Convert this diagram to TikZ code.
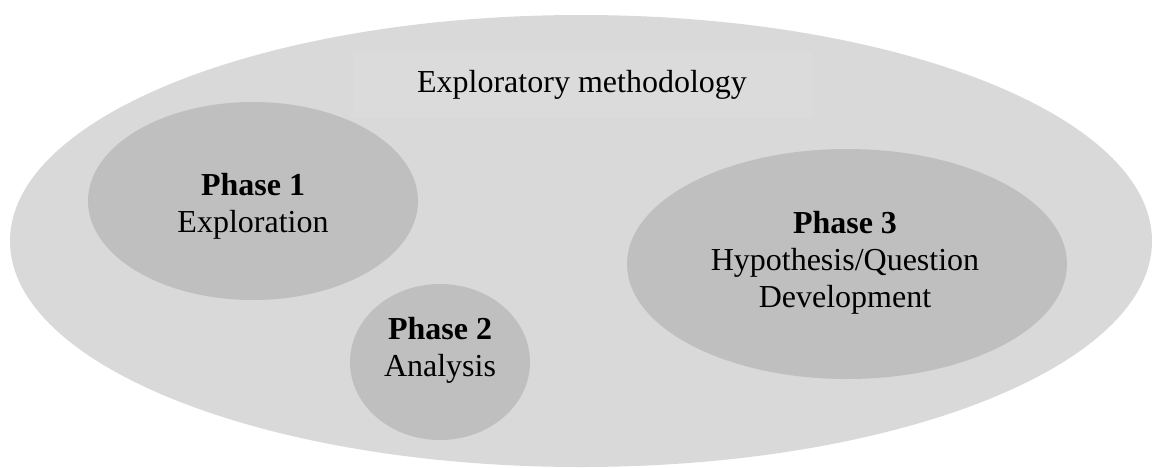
\documentclass[tikz,border=0pt]{standalone}
\usepackage{fontspec}
\setmainfont{Liberation Serif}
\usetikzlibrary{shapes.geometric}
\definecolor{outerfill}{HTML}{D9D9D9}
\definecolor{innerfill}{HTML}{BFBFBF}
\definecolor{titlefill}{HTML}{DBDBDB}
\begin{document}
\begin{tikzpicture}[x=1pt,y=-1pt,
  outer/.style={ellipse, fill=outerfill, draw=none, inner sep=0pt},
  phase/.style={ellipse, fill=innerfill, draw=none, inner sep=0pt},
  lbl/.style={align=center, font=\fontsize{32}{37}\selectfont, inner sep=0pt},
  titlebox/.style={fill=titlefill, draw=none, minimum width=459pt, minimum height=66pt, inner sep=0pt, font=\fontsize{32}{37}\selectfont}
]
\useasboundingbox (0,0) rectangle (1157,467);
\node[outer, minimum width=1142pt, minimum height=452pt] (meth) at (581,241) {};
\node[titlebox] (title) at (582,85) {Exploratory methodology};
\node[phase, minimum width=330pt, minimum height=198pt] (p1) at (253,201) {};
\node[phase, minimum width=180pt, minimum height=156pt] (p2) at (440,362) {};
\node[phase, minimum width=440pt, minimum height=230pt] (p3) at (847,264) {};
\node[lbl] (t1) at (253,206) {\textbf{Phase 1}\\Exploration};
\node[lbl] (t2) at (440,350) {\textbf{Phase 2}\\Analysis};
\node[lbl] (t3) at (845,263) {\textbf{Phase 3}\\Hypothesis/Question\\Development};
\end{tikzpicture}
\end{document}
